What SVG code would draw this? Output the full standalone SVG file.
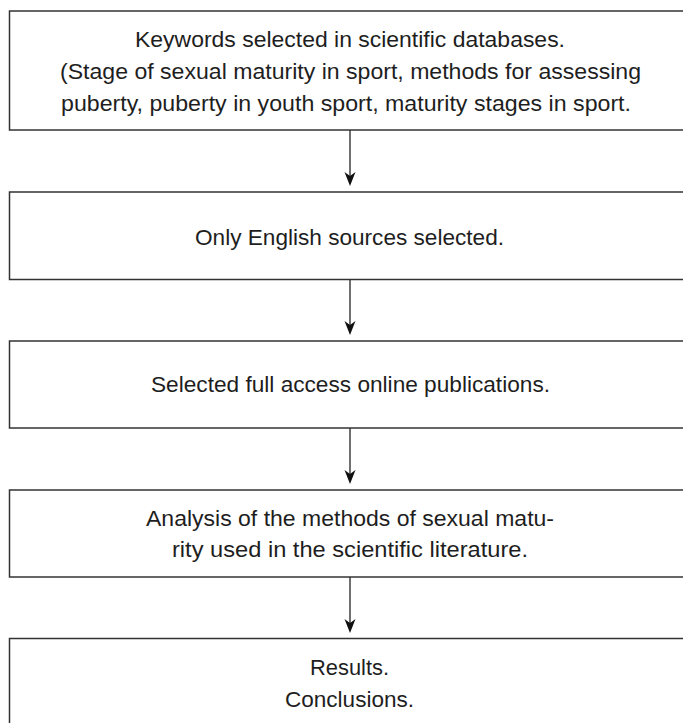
<svg xmlns="http://www.w3.org/2000/svg" width="683" height="723" viewBox="0 0 683 723">
<style>
.box{fill:#fff;stroke:#333;stroke-width:1.5}
.t{font-family:"Liberation Sans",Arial,sans-serif;font-size:22px;fill:#1e1e1e}
.c{stroke:#333;stroke-width:1.4;fill:none}
</style>
<defs>
<marker id="ah" markerUnits="userSpaceOnUse" markerWidth="16" markerHeight="14" viewBox="0 -7 16 14" refX="10" refY="0" orient="auto">
<path d="M0,-5.5 L14,0 L0,5.5 L4,0 z" fill="#111"/>
</marker>
</defs>
<rect width="683" height="723" fill="#fff"/>
<g id="connectors">
<line class="c" x1="350" y1="130" x2="350" y2="182" marker-end="url(#ah)"/>
<line class="c" x1="350" y1="279.5" x2="350" y2="331" marker-end="url(#ah)"/>
<line class="c" x1="350" y1="428" x2="350" y2="480" marker-end="url(#ah)"/>
<line class="c" x1="350" y1="577" x2="350" y2="629" marker-end="url(#ah)"/>
</g>
<g id="node1">
<rect class="box" x="9.5" y="11" width="700" height="119"/>
<text class="t" x="135" y="47" textLength="430" lengthAdjust="spacingAndGlyphs">Keywords selected in scientific databases.</text>
<text class="t" x="60" y="79" textLength="581" lengthAdjust="spacingAndGlyphs">(Stage of sexual maturity in sport, methods for assessing</text>
<text class="t" x="61" y="111" textLength="570" lengthAdjust="spacingAndGlyphs">puberty, puberty in youth sport, maturity stages in sport.</text>
</g>
<g id="node2">
<rect class="box" x="9.5" y="192" width="700" height="87.5"/>
<text class="t" x="195" y="245" textLength="309" lengthAdjust="spacingAndGlyphs">Only English sources selected.</text>
</g>
<g id="node3">
<rect class="box" x="9.5" y="341" width="700" height="87"/>
<text class="t" x="151" y="392" textLength="399" lengthAdjust="spacingAndGlyphs">Selected full access online publications.</text>
</g>
<g id="node4">
<rect class="box" x="9.5" y="490" width="700" height="87"/>
<text class="t" x="146" y="526" textLength="408" lengthAdjust="spacingAndGlyphs">Analysis of the methods of sexual matu-</text>
<text class="t" x="172" y="557" textLength="356" lengthAdjust="spacingAndGlyphs">rity used in the scientific literature.</text>
</g>
<g id="node5">
<rect class="box" x="9.5" y="638.5" width="700" height="110"/>
<text class="t" x="310" y="675" textLength="79" lengthAdjust="spacingAndGlyphs">Results.</text>
<text class="t" x="285" y="707" textLength="129" lengthAdjust="spacingAndGlyphs">Conclusions.</text>
</g>
</svg>
